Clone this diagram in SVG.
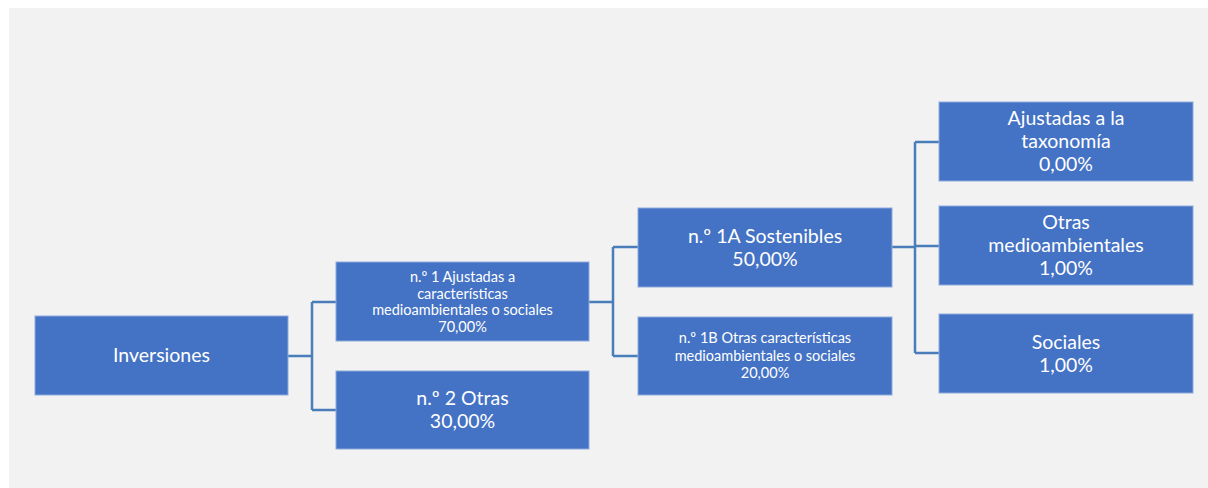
<svg xmlns="http://www.w3.org/2000/svg" width="1208" height="488" viewBox="0 0 1208 488">
<style>
.box{fill:#4472c4;stroke:#8eaadb;stroke-width:1}
.t{fill:#ffffff;font-family:Lato,"Liberation Sans",sans-serif;text-anchor:middle}
.l{font-size:19.5px}
.s{font-size:14.5px}
.c{fill:none;stroke:#4a7ebb;stroke-width:2.5}
</style>
<rect x="0" y="0" width="1208" height="488" fill="#ffffff"/>
<rect x="9" y="8" width="1199" height="480" fill="#f2f2f2"/>
<g id="connectors">
<path class="c" d="M288,356 H312 M312,302 V410 M312,302 H336 M312,410 H336"/>
<path class="c" d="M589,302 H613 M613,247 V356 M613,247 H638 M613,356 H638"/>
<path class="c" d="M892,247 H915 M915,142 V353 M915,142 H939 M915,246 H939 M915,353 H939"/>
</g>
<g id="inversiones">
<rect class="box" x="35" y="316" width="253" height="79"/>
<text class="t l" x="161.5" y="362">Inversiones</text>
</g>
<g id="n1">
<rect class="box" x="336" y="262" width="253" height="79"/>
<text class="t s"><tspan x="462.5" y="282">n.º 1 Ajustadas a</tspan><tspan x="462.5" y="298.5">características</tspan><tspan x="462.5" y="315">medioambientales o sociales</tspan><tspan x="462.5" y="331.5">70,00%</tspan></text>
</g>
<g id="n2">
<rect class="box" x="336" y="371" width="253" height="78"/>
<text class="t l"><tspan x="462.5" y="405">n.º 2 Otras</tspan><tspan x="462.5" y="428">30,00%</tspan></text>
</g>
<g id="n1a">
<rect class="box" x="638" y="208" width="254" height="79"/>
<text class="t l"><tspan x="765" y="243">n.º 1A Sostenibles</tspan><tspan x="765" y="266">50,00%</tspan></text>
</g>
<g id="n1b">
<rect class="box" x="638" y="317" width="254" height="78"/>
<text class="t s"><tspan x="765" y="343">n.º 1B Otras características</tspan><tspan x="765" y="360.5">medioambientales o sociales</tspan><tspan x="765" y="378">20,00%</tspan></text>
</g>
<g id="taxonomia">
<rect class="box" x="939" y="102" width="254" height="79"/>
<text class="t l"><tspan x="1066" y="125">Ajustadas a la</tspan><tspan x="1066" y="148">taxonomía</tspan><tspan x="1066" y="171">0,00%</tspan></text>
</g>
<g id="otras-medio">
<rect class="box" x="939" y="206" width="254" height="79"/>
<text class="t l"><tspan x="1066" y="229">Otras</tspan><tspan x="1066" y="252">medioambientales</tspan><tspan x="1066" y="275">1,00%</tspan></text>
</g>
<g id="sociales">
<rect class="box" x="939" y="314" width="254" height="79"/>
<text class="t l"><tspan x="1066" y="349">Sociales</tspan><tspan x="1066" y="372">1,00%</tspan></text>
</g>
</svg>
